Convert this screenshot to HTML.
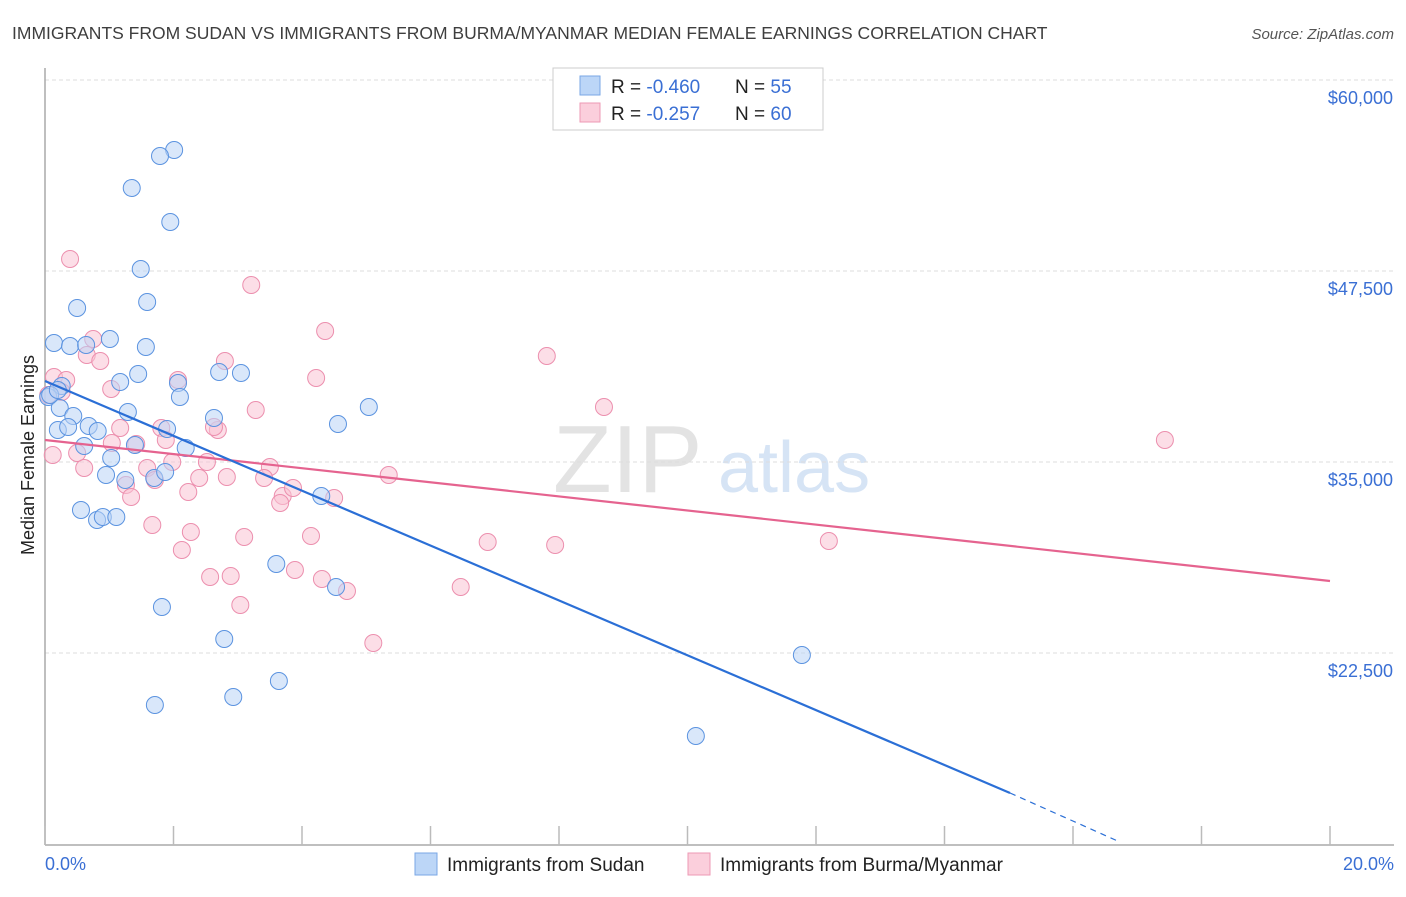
<!DOCTYPE html>
<html><head><meta charset="utf-8"><style>
body{margin:0;background:#fff;font-family:"Liberation Sans",sans-serif}
svg text{font-family:"Liberation Sans",sans-serif}
</style></head><body>
<svg id="chart" width="1406" height="892" viewBox="0 0 1406 892">
<text x="12" y="39" font-size="17.5" fill="#3e3e3e">IMMIGRANTS FROM SUDAN VS IMMIGRANTS FROM BURMA/MYANMAR MEDIAN FEMALE EARNINGS CORRELATION CHART</text>
<text x="1394" y="39" font-size="15" font-style="italic" fill="#555" text-anchor="end">Source: ZipAtlas.com</text>
<g>
<text x="553" y="492" font-family="Liberation Serif,serif" font-size="96" fill="#e3e3e3">ZIP</text>
<text x="718" y="492" font-size="72" fill="#d6e4f5">atlas</text>
</g>
<g id="grid"></g>
<g id="axes"></g>
<g id="pink"></g>
<g id="blue"></g>
<g id="trends"></g>
<text transform="translate(34,455) rotate(-90)" font-size="18" fill="#222" text-anchor="middle">Median Female Earnings</text>
<text x="45" y="870" font-size="18" fill="#3a6fd4">0.0%</text>
<text x="1394" y="870" font-size="18" fill="#3a6fd4" text-anchor="end">20.0%</text>
<g>
<rect x="553" y="68" width="270" height="62" fill="#fff" stroke="#ccc"/>
<rect x="580" y="76" width="20" height="19" fill="#bcd6f7" stroke="#7aa7e6"/>
<rect x="580" y="103" width="20" height="19" fill="#fbcfdc" stroke="#ee9ab4"/>
<text x="611" y="93" font-size="19" fill="#222">R = <tspan fill="#3a6fd4">-0.460</tspan></text>
<text x="735" y="93" font-size="19" fill="#222">N = <tspan fill="#3a6fd4">55</tspan></text>
<text x="611" y="120" font-size="19" fill="#222">R = <tspan fill="#3a6fd4"> -0.257</tspan></text>
<text x="735" y="120" font-size="19" fill="#222">N = <tspan fill="#3a6fd4">60</tspan></text>
</g>
<g>
<rect x="415" y="853" width="22" height="22" fill="#bcd6f7" stroke="#7aa7e6"/>
<text x="447" y="871" font-size="19" fill="#222">Immigrants from Sudan</text></g>
<g>
<rect x="688" y="853" width="22" height="22" fill="#fbcfdc" stroke="#ee9ab4"/>
<text x="720" y="871" font-size="19" fill="#222">Immigrants from Burma/Myanmar</text></g>
</svg>
<script>
const yTicks=[60000,47500,35000,22500];
const yTickLabels=["$60,000","$47,500","$35,000","$22,500"];
const xTicks=[0,2,4,6,8,10,12,14,16,18,20];
const sudanX=[2.01,1.79,1.35,1.95,1.49,0.50,1.59,0.14,0.39,0.64,1.01,1.57,1.45,1.17,2.07,2.71,3.05,2.10,0.05,0.26,0.23,0.44,1.29,0.20,0.36,0.68,0.82,0.61,1.03,1.40,1.90,2.19,2.63,4.56,5.04,0.95,1.25,1.70,1.87,0.56,0.81,0.90,1.11,4.30,3.60,4.53,1.82,2.79,11.78,3.64,2.93,1.71,10.13,0.08,0.20];
const sudanY=[55419,55026,52932,50707,47631,45079,45471,42788,42592,42657,43050,42526,40759,40236,40170,40890,40825,39254,39254,39974,38534,38010,38272,37094,37291,37356,37029,36047,35262,36113,37160,35916,37880,37487,38599,34149,33822,33953,34346,31859,31204,31401,31401,32775,28325,26819,25510,23416,22369,20668,19620,19097,17068,39385,39712];
const burmaX=[0.39,3.21,4.36,7.81,0.75,0.65,0.86,2.80,4.22,0.14,0.33,0.26,1.03,2.07,3.28,8.70,17.43,2.69,1.17,1.81,1.42,1.88,0.50,0.12,0.61,1.59,1.98,2.52,3.50,5.35,1.26,1.71,2.40,2.83,3.41,3.70,3.66,3.86,4.50,1.34,2.23,1.67,2.27,3.10,4.14,6.89,7.94,12.20,2.13,2.57,2.89,3.89,4.31,4.70,6.47,3.04,5.11,1.04,2.63,0.05];
const burmaY=[48285,46584,43573,41937,43050,42003,41610,41610,40497,40563,40366,39581,39777,40366,38403,38599,36440,37094,37225,37225,36178,36440,35589,35458,34607,34607,35000,35000,34673,34149,33495,33822,33953,34018,33953,32775,32317,33298,32644,32709,33037,30877,30419,30092,30157,29764,29568,29830,29241,27474,27540,27932,27343,26558,26819,25641,23154,36243,37291,39385];
const sudanTrend=[[0,40301],[15.02,13338]];
const sudanTrendExt=[[15.02,13338],[16.73,10131]];
const burmaTrend=[[0,36440],[20,27212]];
const NS="http://www.w3.org/2000/svg";
const X=p=>45+p*64.25;
const Y=v=>80+(60000-v)*191/12500;
function mk(tag,attrs,parent){const e=document.createElementNS(NS,tag);for(const k in attrs)e.setAttribute(k,attrs[k]);document.getElementById(parent).appendChild(e);return e;}
yTicks.forEach((v,i)=>{
 const l=mk('line',{x1:45,x2:1394,y1:Y(v),y2:Y(v),stroke:'#ddd','stroke-dasharray':'4,3'},'grid');
 
 
 const t=mk('text',{x:1393,y:Y(v)+24,'font-size':18,fill:'#3a6fd4','text-anchor':'end'},'grid');
 t.textContent=yTickLabels[i];
 
 
});
const ax=mk('line',{x1:45,x2:45,y1:68,y2:845,stroke:'#aaa','stroke-width':1.5},'axes');


const bx=mk('line',{x1:45,x2:1394,y1:845,y2:845,stroke:'#aaa','stroke-width':1.5},'axes');


xTicks.forEach(p=>{
 const t=mk('line',{x1:X(p),x2:X(p),y1:826,y2:845,stroke:'#bbb','stroke-width':1.5},'axes');
 
 
});
function pts(xs,ys,g,fill,stroke,name){
 xs.forEach((x,i)=>{
  const c=mk('circle',{cx:X(x),cy:Y(ys[i]),r:8.5,fill:fill,'fill-opacity':0.55,stroke:stroke,'stroke-width':1},g);
  
  
 });
}
pts(burmaX,burmaY,'pink','#f9c3d4','#ec8fae','burma-point');
pts(sudanX,sudanY,'blue','#b9d3f5','#5b93e0','sudan-point');
function line(seg,color,dash,name){
 const l=mk('line',{x1:X(seg[0][0]),y1:Y(seg[0][1]),x2:X(seg[1][0]),y2:Y(seg[1][1]),stroke:color,'stroke-width':dash?1.2:2.2},'trends');
 if(dash)l.setAttribute('stroke-dasharray','6,5');
 
 
}
line(burmaTrend,'#e5638f',false,'burma-trend-line');
line(sudanTrend,'#2b6fd6',false,'sudan-trend-line');
line(sudanTrendExt,'#2b6fd6',true,'sudan-trend-extension');
</script>
</body></html>
